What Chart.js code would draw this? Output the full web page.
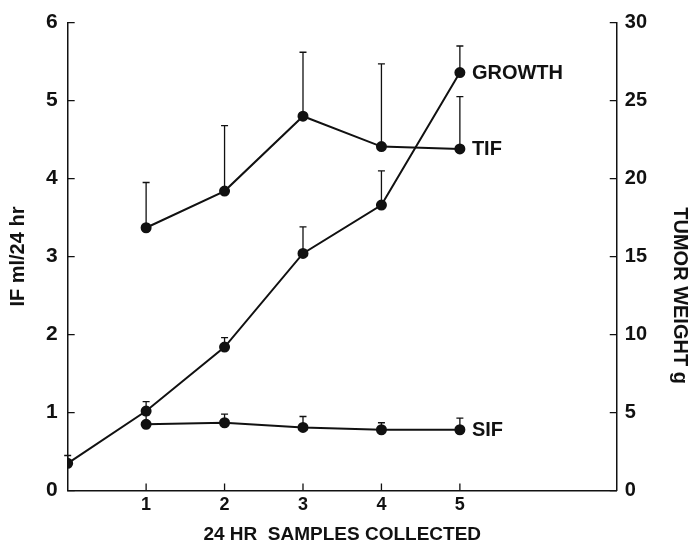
<!DOCTYPE html>
<html><head><meta charset="utf-8">
<script src="https://cdn.jsdelivr.net/npm/chart.js@4/dist/chart.umd.min.js"></script>
<style>html,body{margin:0;padding:0;background:#fff}#wrap{width:698px;height:546px}</style>
</head><body><div id="wrap"><canvas id="c" width="698" height="546"></canvas></div>
<script>
// ---- data ----
const growthDays = [0, 1, 2, 3, 4, 5];
const growthWeight = [1.75, 5.1, 9.2, 15.2, 18.3, 26.8];   // tumor weight, g (right axis)
const growthErr = [0.5, 0.6, 0.6, 1.7, 2.2, 1.7];
const ifDays = [1, 2, 3, 4, 5];
const tifValues = [3.37, 3.84, 4.80, 4.41, 4.38];           // IF ml/24 hr (left axis)
const tifErr = [0.58, 0.84, 0.82, 1.06, 0.67];
const sifValues = [0.85, 0.87, 0.81, 0.78, 0.78];
const sifErr = [0.12, 0.11, 0.14, 0.09, 0.15];
const xTickLabels = ['1', '2', '3', '4', '5'];
const seriesLabels = ['GROWTH', 'TIF', 'SIF'];
const axisTitles = { x: '24 HR  SAMPLES COLLECTED', y: 'IF ml/24 hr', y2: 'TUMOR WEIGHT g' };

const FONT = "'Liberation Sans', Arial, sans-serif";
const pts = (xs, ys) => xs.map((x, i) => ({ x: x, y: ys[i] }));

function lineDs(label, xs, ys, errs, axis) {
  return {
    label: label, data: pts(xs, ys), errs: errs, yAxisID: axis,
    showLine: true, borderColor: '#111', backgroundColor: '#111',
    borderWidth: 2, pointRadius: 4.5, pointHoverRadius: 4.5,
    pointBackgroundColor: '#111', pointBorderColor: '#111', tension: 0
  };
}

const errorBars = {
  id: 'errorBars',
  beforeDatasetsDraw(chart) {
    const ctx = chart.ctx, xs = chart.scales.x;
    ctx.save();
    ctx.strokeStyle = '#111'; ctx.lineWidth = 1.3;
    chart.data.datasets.forEach(ds => {
      const ys = chart.scales[ds.yAxisID];
      ds.data.forEach((p, i) => {
        const px = xs.getPixelForValue(p.x);
        const y0 = ys.getPixelForValue(p.y);
        const y1 = ys.getPixelForValue(p.y + ds.errs[i]);
        ctx.beginPath();
        ctx.moveTo(px, y0); ctx.lineTo(px, y1);
        ctx.moveTo(px - 3.5, y1); ctx.lineTo(px + 3.5, y1);
        ctx.stroke();
      });
    });
    ctx.restore();
  },
  afterDraw(chart) {
    const ctx = chart.ctx, xs = chart.scales.x, y = chart.scales.y, y2 = chart.scales.y2;
    ctx.save();
    ctx.strokeStyle = '#111'; ctx.lineWidth = 1.3;
    const L = 7;
    ctx.beginPath();
    y.ticks.forEach(t => { const py = y.getPixelForValue(t.value); ctx.moveTo(y.right, py); ctx.lineTo(y.right + L, py); });
    y2.ticks.forEach(t => { const py = y2.getPixelForValue(t.value); ctx.moveTo(y2.left, py); ctx.lineTo(y2.left - L, py); });
    xs.ticks.forEach(t => { if (t.value >= 1 && t.value <= 5) { const px = xs.getPixelForValue(t.value); ctx.moveTo(px, xs.top); ctx.lineTo(px, xs.top - L); } });
    ctx.stroke();
    // series labels beside last points
    ctx.fillStyle = '#111';
    ctx.font = "bold 20px " + FONT;
    ctx.textAlign = 'left'; ctx.textBaseline = 'middle';
    chart.data.datasets.forEach(ds => {
      const last = ds.data[ds.data.length - 1];
      const ys = chart.scales[ds.yAxisID];
      ctx.fillText(ds.label, xs.getPixelForValue(last.x) + 12, ys.getPixelForValue(last.y) + 1);
    });
    // right axis title (reads top to bottom)
    ctx.font = "bold 20px " + FONT;
    ctx.textAlign = 'center';
    ctx.translate(y2.left + 63, y2.getPixelForValue(12.5));
    ctx.rotate(Math.PI / 2);
    ctx.fillText(axisTitles.y2, 0, 0);
    ctx.restore();
  }
};

new Chart(document.getElementById('c'), {
  type: 'scatter',
  data: {
    datasets: [
      lineDs(seriesLabels[0], growthDays, growthWeight, growthErr, 'y2'),
      lineDs(seriesLabels[1], ifDays, tifValues, tifErr, 'y'),
      lineDs(seriesLabels[2], ifDays, sifValues, sifErr, 'y')
    ]
  },
  options: {
    responsive: false, animation: false, devicePixelRatio: 1,
    layout: { padding: { left: 6, right: 43, top: 6, bottom: 0 } },
    plugins: { legend: { display: false }, tooltip: { enabled: false } },
    scales: {
      x: {
        type: 'linear', position: 'bottom', min: 0, max: 7,
        grid: { display: false, drawTicks: false },
        border: { display: true, color: '#111', width: 1.5 },
        ticks: {
          stepSize: 1, padding: 4, color: '#111', font: { family: FONT, size: 18, weight: 'bold' },
          callback: v => (v >= 1 && v <= 5) ? xTickLabels[v - 1] : ''
        },
        title: { display: true, text: axisTitles.x, color: '#111', font: { family: FONT, size: 19, weight: 'bold' }, padding: { top: 3, bottom: 0 } }
      },
      y: {
        type: 'linear', position: 'left', min: 0, max: 6,
        grid: { display: false, drawTicks: false },
        border: { display: true, color: '#111', width: 1.5 },
        ticks: { stepSize: 1, padding: 10, color: '#111', font: { family: FONT, size: 21, weight: 'bold' } },
        title: { display: true, text: axisTitles.y, color: '#111', font: { family: FONT, size: 20, weight: 'bold' }, padding: { top: 0, bottom: 6 } }
      },
      y2: {
        type: 'linear', position: 'right', min: 0, max: 30,
        grid: { display: false, drawTicks: false },
        border: { display: true, color: '#111', width: 1.5 },
        ticks: { stepSize: 5, padding: 8, color: '#111', font: { family: FONT, size: 20, weight: 'bold' } }
      }
    }
  },
  plugins: [errorBars]
});
</script>
</body></html>
